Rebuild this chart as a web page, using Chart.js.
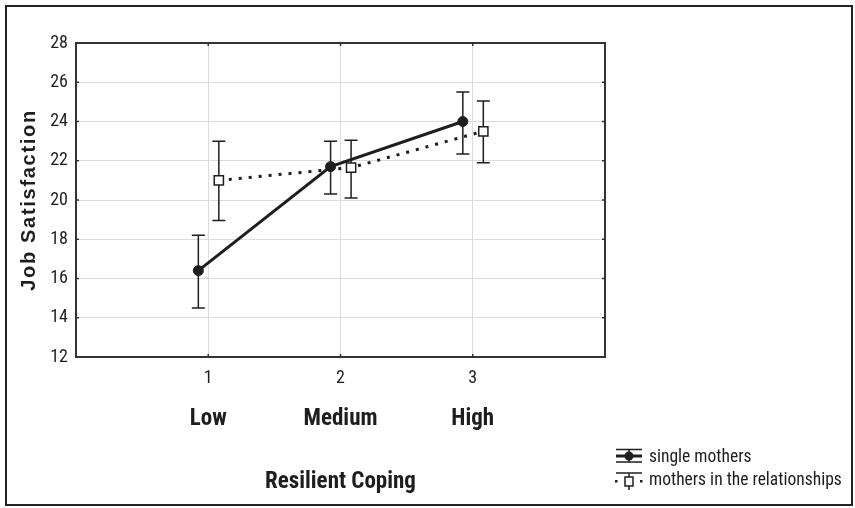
<!DOCTYPE html>
<html>
<head>
<meta charset="utf-8">
<title>Job Satisfaction by Resilient Coping</title>
<script src="https://cdn.jsdelivr.net/npm/chart.js@4.4.0/dist/chart.umd.min.js"></script>
<style>
  html, body { margin: 0; padding: 0; background: #fff; }
  #wrap { width: 855px; height: 508px; }
</style>
</head>
<body>
<div id="wrap"><canvas id="satChart" width="855" height="508"></canvas></div>
<script>
// values
const copingLevels = [1, 2, 3];
const copingNames = ['Low', 'Medium', 'High'];
const yTickValues = [12, 14, 16, 18, 20, 22, 24, 26, 28];
const seriesNames = ['single mothers', 'mothers in the relationships'];

const singleMean = [16.4, 21.7, 24.0];
const singleUpper = [18.2, 23.0, 25.5];
const singleLower = [14.5, 20.3, 22.35];

const relMean = [21.0, 21.65, 23.5];
const relUpper = [23.0, 23.05, 25.05];
const relLower = [18.95, 20.1, 21.9];

// groups are nudged sideways so the bars don't overlap
const singleShift = -0.075;
const relShift = 0.08;

const ink = '#1e1e1e';
const gridGray = '#dcdcdc';
const narrow = '"Roboto Condensed", "Liberation Sans Narrow", "Liberation Sans", sans-serif';

document.addEventListener("DOMContentLoaded", () => {
  const canvas = document.getElementById("satChart");

  const toPoints = (means, shift) => means.map((v, i) => ({ x: copingLevels[i] + shift, y: v }));

  const errorBars = {
    id: 'errorBars',
    beforeDatasetsDraw(chart) {
      const { ctx, scales: { x, y } } = chart;
      const groups = [
        [singleUpper, singleLower, singleShift],
        [relUpper, relLower, relShift]
      ];
      ctx.save();
      ctx.strokeStyle = ink;
      ctx.lineWidth = 1.5;
      groups.forEach(([hi, lo, shift]) => {
        copingLevels.forEach((lvl, i) => {
          const px = x.getPixelForValue(lvl + shift);
          const top = y.getPixelForValue(hi[i]);
          const bot = y.getPixelForValue(lo[i]);
          ctx.beginPath();
          ctx.moveTo(px, top); ctx.lineTo(px, bot);
          ctx.moveTo(px - 6.5, top); ctx.lineTo(px + 6.5, top);
          ctx.moveTo(px - 6.5, bot); ctx.lineTo(px + 6.5, bot);
          ctx.stroke();
        });
      });
      ctx.restore();
    }
  };

  const frame = {
    id: 'frame',
    beforeDraw(chart) {
      const { ctx } = chart;
      ctx.save();
      ctx.fillStyle = '#fff';
      ctx.fillRect(0, 0, chart.width, chart.height);
      ctx.restore();
      // spread the y title letters a little
      const ys = chart.scales.y;
      if (!ys.__spaced) {
        const drawTitle = ys.drawTitle;
        ys.drawTitle = function () {
          this.ctx.save();
          this.ctx.letterSpacing = '1.7px';
          drawTitle.call(this);
          this.ctx.restore();
        };
        ys.__spaced = true;
      }
    },
    afterDraw(chart) {
      const { ctx, chartArea: a, scales: { x, y } } = chart;
      ctx.save();
      ctx.strokeStyle = '#333';
      ctx.lineWidth = 2;
      ctx.strokeRect(a.left, a.top, a.right - a.left, a.bottom - a.top);
      ctx.lineWidth = 1.5;
      ctx.beginPath();
      yTickValues.slice(1, -1).forEach(v => {
        const py = y.getPixelForValue(v);
        ctx.moveTo(a.left, py); ctx.lineTo(a.left + 3, py);
        ctx.moveTo(a.right, py); ctx.lineTo(a.right - 3, py);
      });
      copingLevels.forEach(v => {
        const px = x.getPixelForValue(v);
        ctx.moveTo(px, a.bottom); ctx.lineTo(px, a.bottom - 3);
        ctx.moveTo(px, a.top); ctx.lineTo(px, a.top + 3);
      });
      ctx.stroke();
      // figure border
      ctx.strokeStyle = '#222';
      ctx.lineWidth = 2;
      ctx.strokeRect(6, 6, chart.width - 9, chart.height - 9);
      ctx.restore();
    }
  };

  const legendBox = {
    id: 'legendBox',
    afterDraw(chart) {
      const { ctx } = chart;
      const cx = 629;
      ctx.save();
      ctx.strokeStyle = ink;
      ctx.fillStyle = ink;
      ctx.lineWidth = 1.5;
      // single mothers
      ctx.beginPath();
      ctx.moveTo(616, 449.5); ctx.lineTo(642, 449.5);
      ctx.moveTo(616, 462); ctx.lineTo(642, 462);
      ctx.moveTo(cx, 449.5); ctx.lineTo(cx, 462);
      ctx.stroke();
      ctx.lineWidth = 3;
      ctx.beginPath();
      ctx.moveTo(616, 456); ctx.lineTo(642, 456);
      ctx.stroke();
      ctx.beginPath();
      ctx.arc(cx, 456, 4.5, 0, Math.PI * 2);
      ctx.fill();
      // mothers in the relationships
      ctx.lineWidth = 1.5;
      ctx.beginPath();
      ctx.moveTo(616, 473); ctx.lineTo(642, 473);
      ctx.moveTo(cx, 473); ctx.lineTo(cx, 490);
      ctx.stroke();
      ctx.fillRect(615, 480, 2.5, 2.5);
      ctx.fillRect(640, 480, 2.5, 2.5);
      ctx.fillStyle = '#fff';
      ctx.fillRect(cx - 4, 477, 8, 9);
      ctx.strokeRect(cx - 4, 477, 8, 9);
      ctx.fillStyle = ink;
      ctx.font = '17.5px ' + narrow;
      ctx.textBaseline = 'middle';
      ctx.fillText(seriesNames[0], 649, 458);
      ctx.fillText(seriesNames[1], 649, 481);
      ctx.restore();
    }
  };

  new Chart(canvas.getContext("2d"), {
    type: 'line',
    data: {
      datasets: [{
        label: seriesNames[0],
        data: toPoints(singleMean, singleShift),
        borderColor: ink,
        borderWidth: 3,
        pointStyle: 'circle',
        pointRadius: 5,
        pointBackgroundColor: ink,
        pointBorderColor: ink,
        pointBorderWidth: 1
      }, {
        label: seriesNames[1],
        data: toPoints(relMean, relShift),
        borderColor: ink,
        borderWidth: 3,
        borderDash: [3, 7],
        pointStyle: 'rect',
        pointRadius: 6.5,
        pointBackgroundColor: '#fff',
        pointBorderColor: ink,
        pointBorderWidth: 1.5
      }]
    },
    options: {
      responsive: false,
      animation: false,
      layout: { padding: { left: 0, top: 43, right: 250, bottom: 0 } },
      plugins: { legend: { display: false }, tooltip: { enabled: false } },
      scales: {
        x: {
          type: 'linear',
          position: 'bottom',
          min: 0,
          max: 4,
          afterBuildTicks: axis => { axis.ticks = copingLevels.map(v => ({ value: v })); },
          afterFit: axis => { axis.height = 40; },
          grid: { color: gridGray, lineWidth: 1, drawTicks: false },
          border: { display: false },
          ticks: { color: ink, font: { family: narrow, size: 18 }, padding: 11, maxRotation: 0 }
        },
        x2: {
          type: 'linear',
          position: 'bottom',
          min: 0,
          max: 4,
          afterBuildTicks: axis => { axis.ticks = copingLevels.map(v => ({ value: v })); },
          afterFit: axis => { axis.height = 111; },
          grid: { display: false, drawTicks: false },
          border: { display: false },
          ticks: {
            color: ink,
            font: { family: narrow, size: 23, weight: 'bold' },
            padding: 8,
            maxRotation: 0,
            callback: v => copingNames[copingLevels.indexOf(v)]
          },
          title: {
            display: true,
            text: 'Resilient Coping',
            color: ink,
            font: { family: narrow, size: 23, weight: 'bold' },
            padding: { top: 0, bottom: 12 }
          }
        },
        y: {
          min: 12,
          max: 28,
          afterBuildTicks: axis => { axis.ticks = yTickValues.map(v => ({ value: v })); },
          afterFit: axis => { axis.width = 76; },
          grid: { color: gridGray, lineWidth: 1, drawTicks: false },
          border: { display: false },
          ticks: { color: ink, font: { family: narrow, size: 18 }, padding: 8 },
          title: {
            display: true,
            text: 'Job Satisfaction',
            color: ink,
            font: { family: '"Liberation Sans", Arial, sans-serif', size: 20, weight: 'bold' },
            padding: { top: 17, bottom: 0 }
          }
        }
      }
    },
    plugins: [frame, errorBars, legendBox]
  });
});
</script>
</body>
</html>
